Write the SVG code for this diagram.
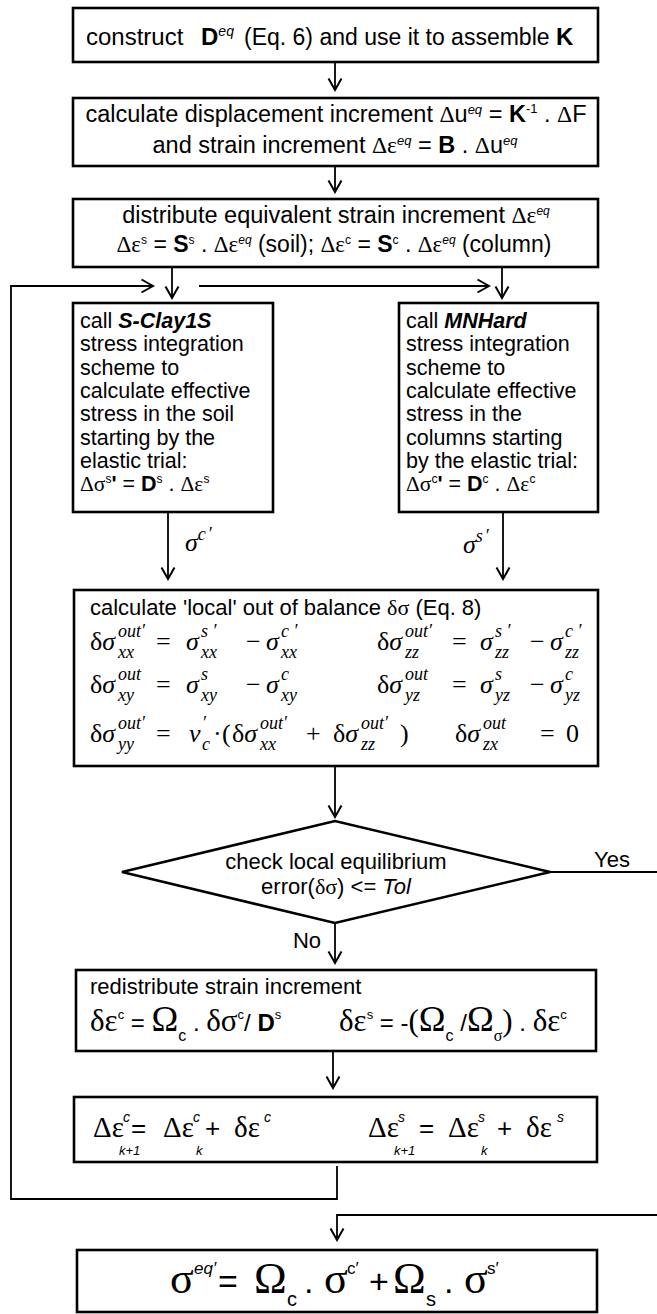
<svg xmlns="http://www.w3.org/2000/svg" width="657" height="1314" viewBox="0 0 657 1314">
<style>
.box{fill:#fff;stroke:#000;stroke-width:2.6}
.t{font-family:"Liberation Sans",Arial,sans-serif;fill:#000}
.g{font-family:"Liberation Serif","Times New Roman",serif}
.m{font-family:"Liberation Serif","Times New Roman",serif;font-style:italic;font-size:26px;fill:#000}
.u{font-style:normal}
.s{font-size:18px}
.lbl{font-family:"Liberation Sans",Arial,sans-serif;font-size:22px;fill:#000}
.conn path{fill:none;stroke:#000;stroke-width:1.8}
</style>
<defs>
<marker id="ah" viewBox="0 0 14 16" refX="12.5" refY="8" markerWidth="14" markerHeight="16" markerUnits="userSpaceOnUse" orient="auto">
<path d="M1,1.5 L12.5,8 L1,14.5" fill="none" stroke="#000" stroke-width="2"/>
</marker>
</defs>
<rect width="657" height="1314" fill="#fff"/>

<g class="conn">
<path d="M335,62 V90" marker-end="url(#ah)"/>
<path d="M335,166 V192" marker-end="url(#ah)"/>
<path d="M172,267 V298" marker-end="url(#ah)"/>
<path d="M502,267 V298" marker-end="url(#ah)"/>
<path d="M199,286 H489" marker-end="url(#ah)"/>
<path d="M337,1166 V1199 H11 V286 H153" marker-end="url(#ah)"/>
<path d="M168,512 V579" marker-end="url(#ah)"/>
<path d="M503,512 V579" marker-end="url(#ah)"/>
<path d="M335,766 V817" marker-end="url(#ah)"/>
<path d="M335,923 V963" marker-end="url(#ah)"/>
<path d="M550,872 H660 V1215 H337 V1240" marker-end="url(#ah)"/>
<path d="M333,1051 V1088" marker-end="url(#ah)"/>
</g>

<g id="n-construct">
<rect class="box" x="73" y="8" width="525" height="54"/>
<text class="t" y="45" font-size="24"><tspan x="86">construct</tspan><tspan x="201" font-weight="bold">D</tspan><tspan font-size="14" font-style="italic" dy="-9">eq</tspan><tspan dy="9" x="244" font-size="23">(Eq. 6) and use it to assemble </tspan><tspan font-weight="bold">K</tspan></text>
</g>

<g id="n-displacement">
<rect class="box" x="73" y="98" width="525" height="68"/>
<text class="t" x="336" y="122" font-size="23.5" text-anchor="middle">calculate displacement increment <tspan class="g">Δ</tspan>u<tspan font-size="13" font-style="italic" dy="-8">eq</tspan><tspan dy="8"> = </tspan><tspan font-weight="bold">K</tspan><tspan font-size="13" dy="-9">-1</tspan><tspan dy="9"> . </tspan><tspan class="g">Δ</tspan>F</text>
<text class="t" x="335" y="153" font-size="23.5" text-anchor="middle">and strain increment <tspan class="g">Δε</tspan><tspan font-size="13" font-style="italic" dy="-8">eq</tspan><tspan dy="8"> = </tspan><tspan font-weight="bold">B</tspan> . <tspan class="g">Δ</tspan>u<tspan font-size="13" font-style="italic" dy="-8">eq</tspan></text>
</g>

<g id="n-distribute">
<rect class="box" x="73" y="199" width="525" height="68"/>
<text class="t" x="336" y="223" font-size="23.5" text-anchor="middle">distribute equivalent strain increment <tspan class="g">Δε</tspan><tspan font-size="12" font-style="italic" dy="-8">eq</tspan></text>
<text class="t" x="334" y="252" font-size="23" text-anchor="middle"><tspan class="g">Δε</tspan><tspan font-size="12" dy="-8">s</tspan><tspan dy="8"> = </tspan><tspan font-weight="bold">S</tspan><tspan font-size="12" dy="-8">s</tspan><tspan dy="8"> . </tspan><tspan class="g">Δε</tspan><tspan font-size="12" font-style="italic" dy="-8">eq</tspan><tspan dy="8"> (soil); </tspan><tspan class="g">Δε</tspan><tspan font-size="12" dy="-8">c</tspan><tspan dy="8"> = </tspan><tspan font-weight="bold">S</tspan><tspan font-size="12" dy="-8">c</tspan><tspan dy="8"> . </tspan><tspan class="g">Δε</tspan><tspan font-size="12" font-style="italic" dy="-8">eq</tspan><tspan dy="8"> (column)</tspan></text>
</g>

<g id="n-sclay">
<rect class="box" x="73" y="303" width="200" height="209"/>
<g class="t" font-size="21.5">
<text x="80" y="328">call <tspan font-weight="bold" font-style="italic">S-Clay1S</tspan></text>
<text x="80" y="351.3">stress integration</text>
<text x="80" y="374.6">scheme to</text>
<text x="80" y="397.9">calculate effective</text>
<text x="80" y="421.2">stress in the soil</text>
<text x="80" y="444.5">starting by the</text>
<text x="80" y="467.8">elastic trial:</text>
<text x="80" y="491.1"><tspan class="g">Δσ</tspan><tspan font-size="12" dy="-8">s</tspan><tspan dy="8" font-weight="bold">'</tspan> = <tspan font-weight="bold">D</tspan><tspan font-size="12" dy="-8">s</tspan><tspan dy="8"> . </tspan><tspan class="g">Δε</tspan><tspan font-size="12" dy="-8">s</tspan></text>
</g>
</g>

<g id="n-mnhard">
<rect class="box" x="399" y="303" width="199" height="209"/>
<g class="t" font-size="21.5">
<text x="406" y="328">call <tspan font-weight="bold" font-style="italic">MNHard</tspan></text>
<text x="406" y="351.3">stress integration</text>
<text x="406" y="374.6">scheme to</text>
<text x="406" y="397.9">calculate effective</text>
<text x="406" y="421.2">stress in the</text>
<text x="406" y="444.5">columns starting</text>
<text x="406" y="467.8">by the elastic trial:</text>
<text x="406" y="491.1"><tspan class="g">Δσ</tspan><tspan font-size="12" dy="-8">c</tspan><tspan dy="8" font-weight="bold">'</tspan> = <tspan font-weight="bold">D</tspan><tspan font-size="12" dy="-8">c</tspan><tspan dy="8"> . </tspan><tspan class="g">Δε</tspan><tspan font-size="12" dy="-8">c</tspan></text>
</g>
</g>

<g id="l-sigma-c">
<text class="m" x="185" y="551">σ<tspan class="s" dy="-11">c</tspan><tspan class="s" dx="2">′</tspan></text>
</g>
<g id="l-sigma-s">
<text class="m" x="463" y="553">σ<tspan class="s" dy="-11">s</tspan><tspan class="s" dx="2">′</tspan></text>
</g>

<g id="n-balance">
<rect class="box" x="74" y="590" width="524" height="176"/>
<text class="t" x="90" y="615" font-size="22">calculate 'local' out of balance <tspan class="g">δσ</tspan> (Eq. 8)</text>
<g class="m">
<text x="90" y="650"><tspan class="u">δ</tspan>σ</text>
<text class="s" x="118" y="637">out′</text><text class="s" x="118" y="658">xx</text>
<text class="u" x="156" y="650">=</text>
<text x="186" y="650">σ</text><text class="s" x="201" y="637">s ′</text><text class="s" x="201" y="658">xx</text>
<text class="u" x="246" y="650">−</text>
<text x="266" y="650">σ</text><text class="s" x="281" y="637">c ′</text><text class="s" x="281" y="658">xx</text>

<text x="377" y="650"><tspan class="u">δ</tspan>σ</text>
<text class="s" x="405" y="637">out′</text><text class="s" x="405" y="658">zz</text>
<text class="u" x="452" y="650">=</text>
<text x="480" y="650">σ</text><text class="s" x="495" y="637">s ′</text><text class="s" x="495" y="658">zz</text>
<text class="u" x="530" y="650">−</text>
<text x="550" y="650">σ</text><text class="s" x="565" y="637">c ′</text><text class="s" x="565" y="658">zz</text>
</g>
<g class="m">
<text x="90" y="693"><tspan class="u">δ</tspan>σ</text>
<text class="s" x="118" y="680">out</text><text class="s" x="118" y="701">xy</text>
<text class="u" x="156" y="693">=</text>
<text x="186" y="693">σ</text><text class="s" x="201" y="680">s</text><text class="s" x="201" y="701">xy</text>
<text class="u" x="246" y="693">−</text>
<text x="266" y="693">σ</text><text class="s" x="281" y="680">c</text><text class="s" x="281" y="701">xy</text>

<text x="377" y="693"><tspan class="u">δ</tspan>σ</text>
<text class="s" x="405" y="680">out</text><text class="s" x="405" y="701">yz</text>
<text class="u" x="452" y="693">=</text>
<text x="480" y="693">σ</text><text class="s" x="495" y="680">s</text><text class="s" x="495" y="701">yz</text>
<text class="u" x="530" y="693">−</text>
<text x="550" y="693">σ</text><text class="s" x="565" y="680">c</text><text class="s" x="565" y="701">yz</text>
</g>
<g class="m">
<text x="90" y="742"><tspan class="u">δ</tspan>σ</text>
<text class="s" x="118" y="729">out′</text><text class="s" x="118" y="750">yy</text>
<text class="u" x="156" y="742">=</text>
<text x="189" y="742">ν</text><text class="s" x="202" y="729">′</text><text class="s" x="202" y="750">c</text>
<text class="u" x="213" y="742">·</text>
<text class="u" x="222" y="742">(</text>
<text x="232" y="742"><tspan class="u">δ</tspan>σ</text>
<text class="s" x="260" y="729">out′</text><text class="s" x="260" y="750">xx</text>
<text class="u" x="306" y="742">+</text>
<text x="333" y="742"><tspan class="u">δ</tspan>σ</text>
<text class="s" x="361" y="729">out′</text><text class="s" x="361" y="750">zz</text>
<text class="u" x="400" y="742">)</text>

<text x="455" y="742"><tspan class="u">δ</tspan>σ</text>
<text class="s" x="483" y="729">out</text><text class="s" x="483" y="750">zx</text>
<text class="u" x="540" y="742">=</text>
<text class="u" x="566" y="742">0</text>
</g>
</g>

<g id="n-check">
<polygon points="122,872 335,821 550,872 335,923" fill="#fff" stroke="#000" stroke-width="2.6"/>
<text class="t" x="336" y="869" font-size="22" text-anchor="middle">check local equilibrium</text>
<text class="t" x="336" y="894" font-size="22" text-anchor="middle">error(<tspan class="g">δσ</tspan>) &lt;= <tspan font-style="italic">Tol</tspan></text>
</g>

<g id="l-yes"><text class="lbl" x="612" y="867" text-anchor="middle">Yes</text></g>
<g id="l-no"><text class="lbl" x="307" y="948" text-anchor="middle">No</text></g>

<g id="n-redistribute">
<rect class="box" x="76" y="970" width="520" height="81"/>
<text class="t" x="90" y="994" font-size="22">redistribute strain increment</text>
<text class="t" font-size="24" y="1031"><tspan class="g" x="90" font-size="31">δε</tspan><tspan font-size="13" dy="-12">c</tspan><tspan dy="12"> = </tspan><tspan class="g" font-size="36">Ω</tspan><tspan font-size="16" dy="10">c</tspan><tspan dy="-10"> . </tspan><tspan class="g" font-size="31">δσ</tspan><tspan font-size="13" dy="-12">c</tspan><tspan dy="12">/ </tspan><tspan font-weight="bold">D</tspan><tspan font-size="13" dy="-12">s</tspan></text>
<text class="t" font-size="24" y="1031"><tspan class="g" x="339" font-size="31">δε</tspan><tspan font-size="13" dy="-12">s</tspan><tspan dy="12"> = -</tspan><tspan class="g" font-size="31">(</tspan><tspan class="g" font-size="36">Ω</tspan><tspan font-size="16" dy="10">c</tspan><tspan dy="-10"> /</tspan><tspan class="g" font-size="36">Ω</tspan><tspan class="g" font-size="16" dy="10">σ</tspan><tspan class="g" font-size="31" dy="-10">)</tspan><tspan> . </tspan><tspan class="g" font-size="31">δε</tspan><tspan font-size="13" dy="-12">c</tspan></text>
</g>

<g id="n-update">
<rect class="box" x="74" y="1097" width="523" height="65"/>
<g class="t" font-size="26">
<text class="g" x="93" y="1137" font-size="29">Δε</text>
<text x="123" y="1122" font-size="14" font-style="italic">c</text>
<text x="119" y="1155" font-size="13" font-style="italic">k+1</text>
<text x="131" y="1137">=</text>
<text class="g" x="163" y="1137" font-size="29">Δε</text>
<text x="193" y="1122" font-size="14" font-style="italic">c</text>
<text x="196" y="1155" font-size="13" font-style="italic">k</text>
<text x="205" y="1137">+</text>
<text class="g" x="234" y="1137" font-size="29">δε</text>
<text x="264" y="1122" font-size="14" font-style="italic">c</text>

<text class="g" x="368" y="1137" font-size="29">Δε</text>
<text x="398" y="1122" font-size="14" font-style="italic">s</text>
<text x="394" y="1155" font-size="13" font-style="italic">k+1</text>
<text x="419" y="1137">=</text>
<text class="g" x="448" y="1137" font-size="29">Δε</text>
<text x="478" y="1122" font-size="14" font-style="italic">s</text>
<text x="481" y="1155" font-size="13" font-style="italic">k</text>
<text x="497" y="1137">+</text>
<text class="g" x="526" y="1137" font-size="29">δε</text>
<text x="557" y="1122" font-size="14" font-style="italic">s</text>
</g>
</g>

<g id="n-equivalent">
<rect class="box" x="77" y="1250" width="520" height="62"/>
<g class="t">
<text class="g" x="170" y="1293" font-size="44">σ</text>
<text x="194" y="1274" font-size="17" font-style="italic">eq′</text>
<text x="218" y="1293" font-size="34">=</text>
<text class="g" x="254" y="1293" font-size="44">Ω</text>
<text x="287" y="1306" font-size="20">c</text>
<text x="304" y="1293" font-size="34">.</text>
<text class="g" x="324" y="1293" font-size="44">σ</text>
<text x="347" y="1274" font-size="17">c′</text>
<text x="369" y="1293" font-size="34">+</text>
<text class="g" x="393" y="1293" font-size="44">Ω</text>
<text x="426" y="1306" font-size="20">s</text>
<text x="444" y="1293" font-size="34">.</text>
<text class="g" x="464" y="1293" font-size="44">σ</text>
<text x="487" y="1274" font-size="17">s′</text>
</g>
</g>
</svg>
